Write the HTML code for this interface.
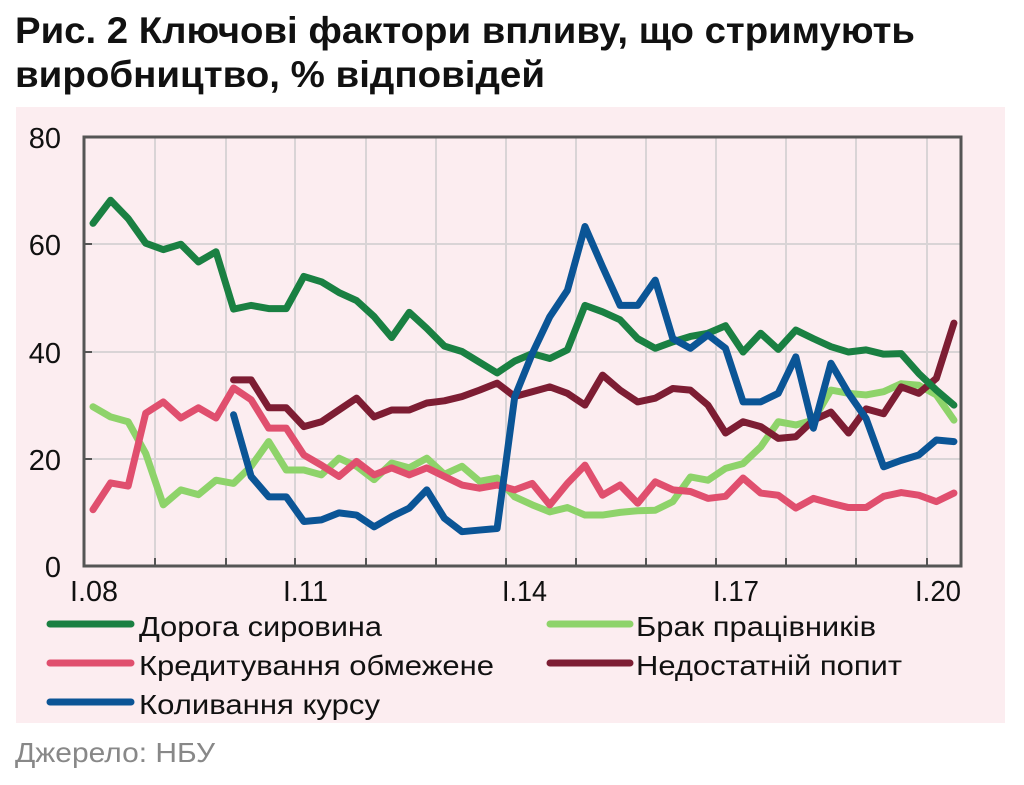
<!DOCTYPE html>
<html><head><meta charset="utf-8"><style>
html,body{margin:0;padding:0;background:#fff;}
svg{display:block;font-family:"Liberation Sans",sans-serif;}
</style></head><body>
<svg width="1024" height="785" viewBox="0 0 1024 785" xmlns="http://www.w3.org/2000/svg">
<rect width="1024" height="785" fill="#fff"/>
<text x="15" y="43" font-size="37" font-weight="bold" fill="#111" textLength="900" lengthAdjust="spacingAndGlyphs">Рис. 2 Ключові фактори впливу, що стримують</text>
<text x="15" y="87" font-size="37" font-weight="bold" fill="#111" textLength="530" lengthAdjust="spacingAndGlyphs">виробництво, % відповідей</text>
<rect x="16" y="107" width="989" height="616" fill="#fcedf0"/>
<g stroke="#d9d4d6" stroke-width="2">
<line x1="84" y1="244" x2="961" y2="244"/><line x1="84" y1="352" x2="961" y2="352"/><line x1="84" y1="459" x2="961" y2="459"/>
<line x1="155" y1="137" x2="155" y2="566"/><line x1="226" y1="137" x2="226" y2="566"/><line x1="295" y1="137" x2="295" y2="566"/><line x1="366" y1="137" x2="366" y2="566"/><line x1="436" y1="137" x2="436" y2="566"/><line x1="506" y1="137" x2="506" y2="566"/><line x1="576" y1="137" x2="576" y2="566"/><line x1="646" y1="137" x2="646" y2="566"/><line x1="716" y1="137" x2="716" y2="566"/><line x1="786" y1="137" x2="786" y2="566"/><line x1="856" y1="137" x2="856" y2="566"/><line x1="927" y1="137" x2="927" y2="566"/>
</g>
<g stroke="#555" stroke-width="2">
<line x1="155" y1="558" x2="155" y2="566"/><line x1="226" y1="558" x2="226" y2="566"/><line x1="295" y1="558" x2="295" y2="566"/><line x1="366" y1="558" x2="366" y2="566"/><line x1="436" y1="558" x2="436" y2="566"/><line x1="506" y1="558" x2="506" y2="566"/><line x1="576" y1="558" x2="576" y2="566"/><line x1="646" y1="558" x2="646" y2="566"/><line x1="716" y1="558" x2="716" y2="566"/><line x1="786" y1="558" x2="786" y2="566"/><line x1="856" y1="558" x2="856" y2="566"/><line x1="927" y1="558" x2="927" y2="566"/>
<line x1="84" y1="244" x2="92" y2="244"/><line x1="84" y1="352" x2="92" y2="352"/><line x1="84" y1="459" x2="92" y2="459"/>
</g>
<rect x="84" y="137" width="877" height="429" fill="none" stroke="#555" stroke-width="3"/>
<g font-size="29" fill="#111">
<text x="61" y="148" text-anchor="end">80</text>
<text x="61" y="255" text-anchor="end">60</text>
<text x="61" y="363" text-anchor="end">40</text>
<text x="61" y="470" text-anchor="end">20</text>
<text x="61" y="577" text-anchor="end">0</text>
<text x="70" y="601" textLength="48" lengthAdjust="spacingAndGlyphs">I.08</text>
<text x="283" y="601" textLength="45" lengthAdjust="spacingAndGlyphs">I.11</text>
<text x="502" y="601" textLength="45" lengthAdjust="spacingAndGlyphs">I.14</text>
<text x="713" y="601" textLength="46" lengthAdjust="spacingAndGlyphs">I.17</text>
<text x="915" y="601" textLength="46" lengthAdjust="spacingAndGlyphs">I.20</text>
</g>
<g transform="translate(93,566) scale(17.57,-5.3625)" fill="none" stroke-width="7" stroke-linejoin="round" stroke-linecap="round">
<polyline vector-effect="non-scaling-stroke" stroke="#8ed36a" points="0,29.7 1,27.8 2,26.9 3,21 4,11.4 5,14.2 6,13.3 7,16 8,15.4 9,18.6 10,23.2 11,17.9 12,17.9 13,17 14,20.1 15,18.6 16,16.1 17,19.2 18,18.3 19,20.1 20,17.1 21,18.6 22,15.8 23,16.4 24,12.9 25,11.4 26,10.1 27,10.9 28,9.5 29,9.5 30,10 31,10.3 32,10.4 33,12 34,16.6 35,16 36,18.2 37,19.1 38,22.2 39,26.9 40,26.3 41,27.2 42,32.8 43,32.2 44,31.9 45,32.5 46,34 47,33.7 48,31.9 49,27.2"/>
<polyline vector-effect="non-scaling-stroke" stroke="#e04f6e" points="0,10.5 1,15.5 2,14.9 3,28.5 4,30.6 5,27.6 6,29.5 7,27.6 8,33.2 9,31 10,25.7 11,25.7 12,20.7 13,18.8 14,16.7 15,19.5 16,17 17,18.3 18,17 19,18.3 20,16.7 21,15.1 22,14.5 23,15.1 24,14.2 25,15.4 26,11.4 27,15.4 28,18.8 29,13.2 30,15.1 31,11.7 32,15.7 33,14.2 34,13.9 35,12.6 36,13 37,16.4 38,13.6 39,13.2 40,10.8 41,12.6 42,11.7 43,10.9 44,10.9 45,13 46,13.7 47,13.2 48,12 49,13.6"/>
<polyline vector-effect="non-scaling-stroke" stroke="#7d1d33" points="8,34.7 9,34.7 10,29.5 11,29.5 12,26 13,26.9 14,29.1 15,31.3 16,27.8 17,29.1 18,29.1 19,30.4 20,30.8 21,31.6 22,32.8 23,34.1 24,31.6 25,32.5 26,33.4 27,32.2 28,30 29,35.6 30,32.8 31,30.6 32,31.3 33,33.1 34,32.8 35,30 36,24.8 37,26.9 38,26 39,23.8 40,24.1 41,27.2 42,28.7 43,24.8 44,29.3 45,28.4 46,33.4 47,32.2 48,35 49,45.3"/>
<polyline vector-effect="non-scaling-stroke" stroke="#1a8042" points="0,63.9 1,68.2 2,64.8 3,60.2 4,59 5,60 6,56.7 7,58.6 8,47.9 9,48.6 10,48 11,48 12,54 13,53 14,51 15,49.5 16,46.5 17,42.6 18,47.3 19,44.3 20,41 21,40 22,38 23,36 24,38.2 25,39.6 26,38.7 27,40.3 28,48.6 29,47.4 30,45.9 31,42.4 32,40.6 33,41.8 34,42.8 35,43.4 36,44.8 37,39.9 38,43.4 39,40.4 40,44 41,42.4 42,40.9 43,39.9 44,40.3 45,39.5 46,39.6 47,35.9 48,32.8 49,30"/>
<polyline vector-effect="non-scaling-stroke" stroke="#0b5596" points="8,28.2 9,16.7 10,12.9 11,12.9 12,8.3 13,8.6 14,9.9 15,9.5 16,7.3 17,9.2 18,10.8 19,14.2 20,8.9 21,6.4 22,6.7 23,7 24,31.5 25,39.6 26,46.5 27,51.4 28,63.3 29,55.8 30,48.6 31,48.6 32,53.3 33,42.4 34,40.6 35,43.1 36,40.6 37,30.6 38,30.6 39,32.2 40,39 41,25.7 42,37.8 43,32.2 44,27.5 45,18.5 46,19.7 47,20.7 48,23.5 49,23.2"/>
</g>
<g stroke-width="7" stroke-linecap="round">
<line x1="50" y1="624" x2="131" y2="624" stroke="#1a8042"/>
<line x1="50" y1="663" x2="131" y2="663" stroke="#e04f6e"/>
<line x1="50" y1="702" x2="131" y2="702" stroke="#0b5596"/>
<line x1="550" y1="624" x2="630" y2="624" stroke="#8ed36a"/>
<line x1="550" y1="663" x2="630" y2="663" stroke="#7d1d33"/>
</g>
<g font-size="28" fill="#111">
<text x="139" y="636" textLength="243" lengthAdjust="spacingAndGlyphs">Дорога сировина</text>
<text x="139" y="675" textLength="355" lengthAdjust="spacingAndGlyphs">Кредитування обмежене</text>
<text x="139" y="714" textLength="241" lengthAdjust="spacingAndGlyphs">Коливання курсу</text>
<text x="636" y="636" textLength="240" lengthAdjust="spacingAndGlyphs">Брак працівників</text>
<text x="636" y="675" textLength="266" lengthAdjust="spacingAndGlyphs">Недостатній попит</text>
</g>
<text x="15" y="762" font-size="28" fill="#888" textLength="200" lengthAdjust="spacingAndGlyphs">Джерело: НБУ</text>
</svg>
</body></html>
